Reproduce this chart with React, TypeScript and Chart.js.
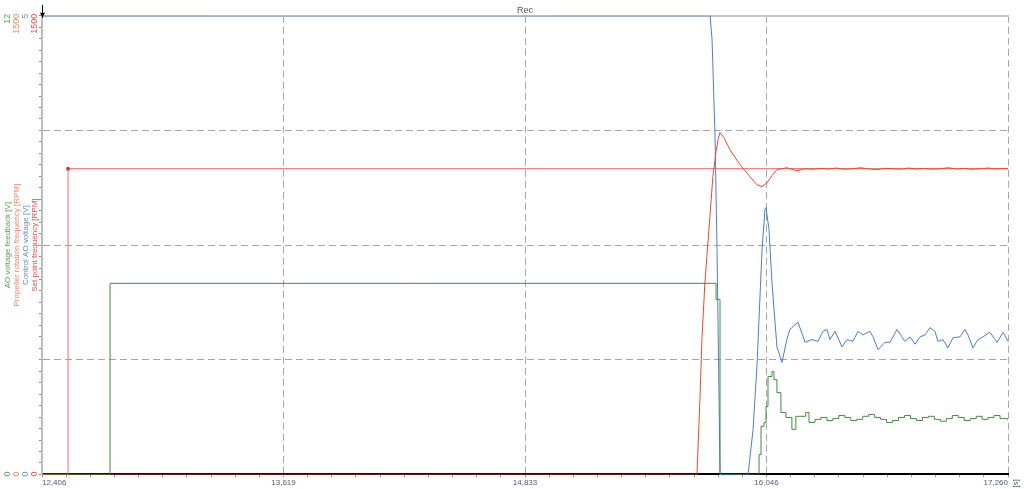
import { useEffect, useRef } from 'react';
import { Chart, registerables } from 'chart.js';

Chart.register(...registerables);

// ---------------- data ----------------
const X_MIN = 12406;
const X_MAX = 17260;
const xTickLabels = ['12,406', '13,619', '14,833', '16,046', '17,260'];
const xUnit = '[s]';
const topTitle = 'Rec';

const axisIds = ['yFeedback', 'yProp', 'yControl', 'ySet'];
const axisTitles = [
  'AO voltage feedback [V]',
  'Propeller rotation frequency [RPM]',
  'Control AO voltage [V]',
  'Set point frequency [RPM]',
];
const axisMax = [12, 1500, 5, 1500];
const axisMaxLabels = ['12', '1500', '5', '1500'];
const axisMinLabels = ['0', '0', '0', '0'];

// AO voltage feedback [V] (stepped signal, value held until next sample)
const feedbackTime = [
  12406, 12748, 12748, 15793, 15793, 15813, 15813, 15994, 16009, 16019, 16034, 16044, 16054, 16074, 16084, 16099, 16119,
  16144, 16174, 16194, 16244, 16260, 16290, 16320, 16350, 16380, 16410, 16440, 16470, 16500, 16530,
  16560, 16590, 16620, 16650, 16680, 16710, 16740, 16770, 16800, 16830, 16860, 16890, 16920, 16950,
  16980, 17010, 17040, 17070, 17100, 17130, 17160, 17190, 17220, 17260,
];
const feedbackVolts = [
  0, 0, 5.0, 5.0, 4.58, 4.58, 0, 0, 0.52, 1.26, 1.36, 1.78, 2.56, 2.69, 2.48, 2.14, 1.62,
  1.49, 1.18, 1.52, 1.62, 1.36, 1.44, 1.49, 1.41, 1.46, 1.54, 1.49, 1.41, 1.44, 1.52,
  1.57, 1.49, 1.44, 1.36, 1.41, 1.49, 1.54, 1.46, 1.41, 1.49, 1.52, 1.44, 1.39, 1.46,
  1.54, 1.49, 1.41, 1.46, 1.52, 1.44, 1.49, 1.54, 1.46, 1.41, 1.49,
];

// Propeller rotation frequency [RPM]
const propTime = [
  12406, 15697, 15712, 15722, 15737, 15762, 15777, 15793, 15803, 15813, 15833, 15863, 15913, 15963,
  15998, 16024, 16049, 16074, 16099, 16149, 16199, 16240, 16280, 16320, 16360, 16400, 16440, 16480,
  16520, 16560, 16600, 16640, 16680, 16720, 16760, 16800, 16840, 16880, 16920, 16960, 17000, 17040,
  17080, 17120, 17160, 17200, 17240, 17260,
];
const propRpm = [
  0, 0, 245, 441, 627, 843, 974, 1056, 1095, 1118, 1101, 1062, 1013, 974,
  948, 941, 954, 977, 997, 1003, 993, 1000, 998, 1001, 999, 1002, 998, 1000,
  1003, 999, 997, 1001, 1000, 998, 1002, 999, 1001, 998, 1000, 1003, 999, 1001,
  998, 1000, 1002, 999, 1001, 1000,
];

// Control AO voltage [V]
const controlTime = [
  12406, 15763, 15773, 15788, 15798, 15808, 15813, 15954, 15979, 15999, 16024, 16039, 16044, 16059,
  16074, 16099, 16124, 16149, 16164, 16205, 16240, 16275, 16305, 16330, 16350, 16365, 16391, 16426,
  16451, 16481, 16506, 16531, 16566, 16582, 16607, 16642, 16667, 16702, 16727, 16742, 16768, 16793,
  16818, 16843, 16868, 16893, 16908, 16933, 16958, 16984, 17019, 17044, 17059, 17084, 17109, 17134,
  17169, 17205, 17235, 17260,
];
const controlVolts = [
  5, 5, 4.74, 3.68, 2.45, 0.82, 0, 0, 0.49, 1.2, 2.45, 2.89, 2.91, 2.67,
  2.09, 1.39, 1.22, 1.47, 1.58, 1.66, 1.44, 1.47, 1.45, 1.56, 1.58, 1.47, 1.56, 1.39,
  1.47, 1.45, 1.56, 1.52, 1.56, 1.5, 1.36, 1.44, 1.44, 1.58, 1.5, 1.45, 1.5, 1.42,
  1.5, 1.52, 1.6, 1.56, 1.45, 1.47, 1.38, 1.49, 1.5, 1.58, 1.52, 1.38, 1.47, 1.5,
  1.55, 1.44, 1.55, 1.45,
];

// Set point frequency [RPM]
const setpointTime = [12406, 12537, 12537, 17260];
const setpointRpm = [0, 0, 1000, 1000];

// ---------------- styles ----------------
const FONT = '"Liberation Sans", Arial, sans-serif';
const lineColors = ['#3f8f3f', '#f2462c', '#4a7fcc', '#f26a6a'];
const labelColors = ['#55a255', '#f4836a', '#5b8fd6', '#f04848'];
const GRID = '#a6a6a6';
const DASH = [7, 4];

const toPoints = (xs: number[], ys: number[]) => xs.map((x, i) => ({ x, y: ys[i] }));

function rotText(ctx: CanvasRenderingContext2D, text: string, x: number, y: number, align: CanvasTextAlign) {
  ctx.save();
  ctx.translate(x, y);
  ctx.rotate(-Math.PI / 2);
  ctx.textAlign = align;
  ctx.textBaseline = 'middle';
  ctx.fillText(text, 0, 0);
  ctx.restore();
}

const sideLabels = {
  id: 'sideLabels',
  afterDraw(chart: any) {
    const ctx = chart.ctx as CanvasRenderingContext2D;
    const area = chart.chartArea;
    axisIds.forEach((id, i) => {
      const s = chart.scales[id];
      const x = area.left - 34.5 + 9 * i;
      ctx.save();
      ctx.fillStyle = labelColors[i];
      ctx.font = `9px ${FONT}`;
      rotText(ctx, axisMaxLabels[i], x, s.getPixelForValue(s.max) - 2, 'right');
      rotText(ctx, axisMinLabels[i], x, s.getPixelForValue(s.min) + 2, 'left');
      ctx.font = `8px ${FONT}`;
      rotText(ctx, axisTitles[i], x, (area.top + area.bottom) / 2, 'center');
      ctx.restore();
    });
    // x unit
    ctx.save();
    ctx.fillStyle = '#50607a';
    ctx.font = `8px ${FONT}`;
    rotText(ctx, xUnit, area.right + 8, area.bottom + 9, 'center');
    ctx.restore();
    // cursor marker at start of the time axis
    const xs = chart.scales.x;
    const cx = Math.round(xs.getPixelForValue(X_MIN)) + 0.5;
    ctx.save();
    ctx.strokeStyle = '#000';
    ctx.fillStyle = '#000';
    ctx.lineWidth = 1;
    ctx.beginPath();
    ctx.moveTo(cx, area.top - 11);
    ctx.lineTo(cx, area.top + 2);
    ctx.stroke();
    ctx.beginPath();
    ctx.moveTo(cx - 2.5, area.top - 3);
    ctx.lineTo(cx + 2.5, area.top - 3);
    ctx.lineTo(cx, area.top + 2);
    ctx.closePath();
    ctx.fill();
    ctx.restore();
  },
};

export default function App() {
  const ref = useRef<HTMLCanvasElement>(null);

  useEffect(() => {
    if (!ref.current) return;
    Chart.defaults.font.family = FONT;
    const minorTicks = (min: number, max: number) => (scale: any) => {
      scale.ticks = Array.from({ length: 41 }, (_, i) => ({ value: min + (i * (max - min)) / 40 }));
    };

    const chart = new Chart(ref.current, {
      type: 'line',
      data: {
        datasets: [
          {
            label: axisTitles[0],
            data: toPoints(feedbackTime, feedbackVolts),
            yAxisID: 'yFeedback',
            borderColor: lineColors[0],
            stepped: 'before',
          },
          {
            label: axisTitles[1],
            data: toPoints(propTime, propRpm),
            yAxisID: 'yProp',
            borderColor: lineColors[1],
          },
          {
            label: axisTitles[2],
            data: toPoints(controlTime, controlVolts),
            yAxisID: 'yControl',
            borderColor: lineColors[2],
          },
          {
            label: axisTitles[3],
            data: toPoints(setpointTime, setpointRpm),
            yAxisID: 'ySet',
            borderColor: lineColors[3],
            pointRadius: (c: any) => (c.dataIndex === 2 ? 2 : 0),
            pointBackgroundColor: '#e83030',
            pointBorderWidth: 0,
          },
        ] as any,
      },
      options: {
        animation: false,
        responsive: true,
        maintainAspectRatio: false,
        events: [],
        layout: { padding: { left: 39, right: 16, top: 0, bottom: 0 } },
        elements: {
          point: { radius: 0 },
          line: { borderWidth: 1, tension: 0 },
        },
        plugins: {
          legend: { display: false },
          tooltip: { enabled: false },
        },
        scales: {
          x: {
            type: 'linear',
            position: 'bottom',
            min: X_MIN,
            max: X_MAX,
            afterBuildTicks: minorTicks(X_MIN, X_MAX),
            ticks: {
              autoSkip: false,
              maxRotation: 0,
              minRotation: 0,
              align: 'inner',
              padding: 1,
              color: '#50607a',
              font: { size: 8, family: FONT },
              callback: (_v: any, i: number) => (i % 10 === 0 ? xTickLabels[i / 10] : ''),
            },
            grid: {
              color: (c: any) => (c.index % 10 === 0 && c.index !== 0 ? GRID : 'rgba(0,0,0,0)'),
              lineWidth: 1,
              tickLength: 3,
              tickColor: '#9a9a9a',
            },
            border: { color: '#000', width: 2, dash: DASH },
          },
          xTop: {
            type: 'linear',
            position: 'top',
            min: X_MIN,
            max: X_MAX,
            ticks: { display: false },
            grid: { display: false, drawTicks: false },
            border: { color: '#c8c8c8', width: 2 },
            title: {
              display: true,
              text: topTitle,
              color: '#555',
              font: { size: 9, family: FONT },
              padding: { top: 5, bottom: 0 },
            },
          },
          yFeedback: { type: 'linear', position: 'left', min: 0, max: axisMax[0], display: false },
          yProp: { type: 'linear', position: 'left', min: 0, max: axisMax[1], display: false },
          yControl: { type: 'linear', position: 'left', min: 0, max: axisMax[2], display: false },
          ySet: {
            type: 'linear',
            position: 'left',
            min: 0,
            max: axisMax[3],
            afterBuildTicks: minorTicks(0, axisMax[3]),
            ticks: { display: false },
            grid: {
              color: (c: any) =>
                c.index % 10 === 0 && c.index !== 0 && c.index !== 40 ? GRID : 'rgba(0,0,0,0)',
              lineWidth: 1,
              tickLength: 3,
              tickColor: '#8a8a8a',
            },
            border: { color: '#bdbdbd', width: 2, dash: DASH },
          },
        } as any,
      },
      plugins: [sideLabels],
    });
    return () => chart.destroy();
  }, []);

  return (
    <div style={{ position: 'absolute', left: 0, top: 0, width: 1024, height: 489 }}>
      <canvas ref={ref} />
    </div>
  );
}
